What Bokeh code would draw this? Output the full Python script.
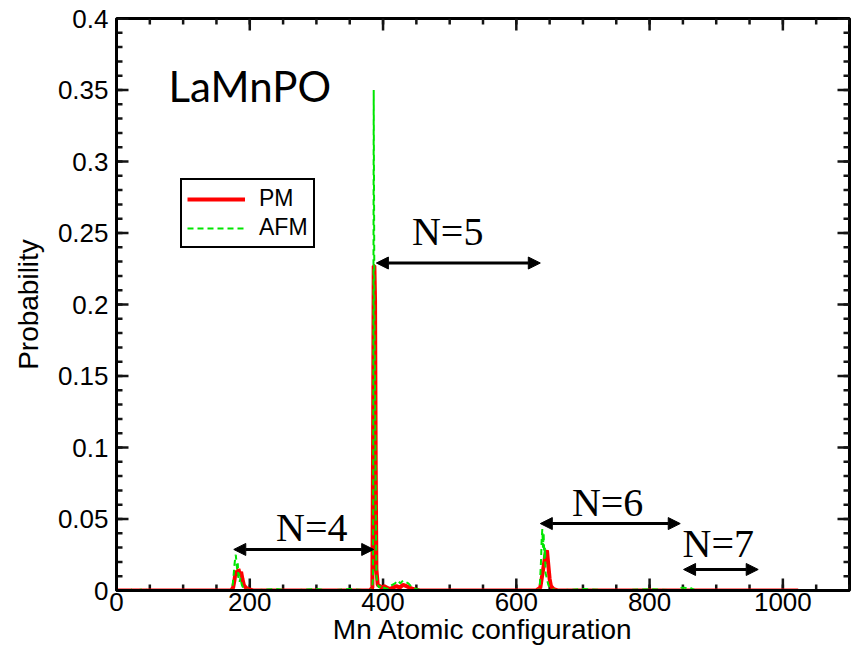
from bokeh.plotting import figure
from bokeh.models import (Range1d, FixedTicker, CustomJSTickFormatter,
                          Arrow, NormalHead, Label, Legend, LegendItem, ColumnDataSource)
from bokeh.core.properties import value
from bokeh.embed import file_html
from bokeh.resources import INLINE

# ---------------- data ----------------
pm_x = [0, 172, 175, 177, 179, 181, 183, 185, 187, 189, 191, 194, 198, 205,
        380, 384, 385, 386, 387, 388, 389, 390, 392, 395, 398, 402, 406, 410,
        415, 420, 425, 430, 435, 440, 445, 455,
        630, 636, 638, 640, 642, 644, 646, 648, 650, 652, 656, 662, 1023]
pm_y = [0, 0, 0.002, 0.007, 0.014, 0.010, 0.015, 0.011, 0.013, 0.008, 0.004, 0.002, 0.001, 0,
        0, 0.002, 0.100, 0.227, 0.227, 0.203, 0.086, 0.015, 0.004, 0.003, 0.002, 0.003, 0.002, 0.001,
        0.002, 0.003, 0.002, 0.004, 0.003, 0.002, 0.001, 0,
        0, 0.002, 0.008, 0.014, 0.020, 0.026, 0.028, 0.018, 0.008, 0.003, 0.001, 0, 0]

afm_x = [0, 20, 25, 30, 40, 50,
         170, 174, 176, 177, 178, 179, 180, 181, 182, 183, 184, 185, 186, 188, 190, 195, 200,
         240, 260, 300, 320, 350, 380,
         384, 385, 386, 387, 388, 389, 390, 392, 394, 396, 398, 402, 406, 410, 414, 418,
         422, 426, 430, 434, 438, 442, 446, 450, 460,
         630, 635, 637, 638, 639, 640, 641, 642, 643, 644, 646, 648, 650, 655, 660,
         700, 750, 800, 845, 848, 852, 856, 860, 865, 870, 1023]
afm_y = [0, 0, 0.001, 0, 0.001, 0,
         0, 0.002, 0.012, 0.018, 0.022, 0.025, 0.020, 0.015, 0.019, 0.008, 0.012, 0.006, 0.009, 0.004, 0.002, 0.001, 0,
         0.001, 0, 0.001, 0, 0.001, 0,
         0.002, 0.010, 0.350, 0.200, 0.140, 0.060, 0.010, 0.004, 0.002, 0.003, 0.001, 0.002, 0.001, 0.003, 0.004, 0.005,
         0.007, 0.005, 0.007, 0.006, 0.005, 0.003, 0.002, 0.001, 0,
         0, 0.001, 0.020, 0.035, 0.043, 0.030, 0.040, 0.022, 0.030, 0.012, 0.008, 0.004, 0.002, 0.001, 0,
         0.001, 0, 0.001, 0, 0.002, 0.002, 0.0015, 0.002, 0.001, 0, 0]

# groups of configurations with N Mn atoms
group_labels = ["N=4", "N=5", "N=6", "N=7"]
group_start = [176, 390, 636, 851]
group_end = [386, 636, 846, 963]
arrow_level = [0.0287, 0.229, 0.0468, 0.0147]
label_x = [293, 497, 737, 903]
label_y = [0.044, 0.2507, 0.0615, 0.0327]

x_ticks = [0, 200, 400, 600, 800, 1000]
x_minor = [i * 50 for i in range(23)]
y_ticks = [0, 0.05, 0.1, 0.15, 0.2, 0.25, 0.3, 0.35, 0.4]
y_minor = [i / 100 for i in range(41)]

X_MIN, X_MAX = 0, 1100
Y_MIN, Y_MAX = 0, 0.4

# ---------------- figure ----------------
W, H = 854, 654
B_LEFT, B_RIGHT, B_TOP, B_BOTTOM = 116, 5, 18, 64
p = figure(width=W, height=H, output_backend="svg", toolbar_location=None,
           x_range=Range1d(X_MIN, X_MAX), y_range=Range1d(Y_MIN, Y_MAX),
           min_border_left=B_LEFT, min_border_right=B_RIGHT,
           min_border_top=B_TOP, min_border_bottom=B_BOTTOM)
p.grid.visible = False
p.outline_line_color = "black"
p.outline_line_width = 3
p.outline_line_alpha = 1
p.background_fill_color = "white"
p.border_fill_color = "white"

fmt = CustomJSTickFormatter(code="return Number(tick.toFixed(2)).toString();")

for ax, ticks, minor in ((p.xaxis[0], x_ticks, x_minor), (p.yaxis[0], y_ticks, y_minor)):
    ax.ticker = FixedTicker(ticks=ticks, minor_ticks=minor)
    ax.formatter = fmt
    ax.axis_line_width = 3
    ax.axis_line_color = "black"
    ax.major_tick_in = 0
    ax.major_tick_out = 0
    ax.minor_tick_in = 0
    ax.minor_tick_out = 0
    ax.major_label_text_font = "Liberation Sans"
    ax.major_label_text_font_size = "26px"
    ax.major_label_text_color = "black"
    ax.axis_label_text_font = "Liberation Sans"
    ax.axis_label_text_font_size = "28px"
    ax.axis_label_text_font_style = "normal"
    ax.axis_label_text_color = "black"

p.xaxis[0].axis_label = "Mn Atomic configuration"
p.yaxis[0].axis_label = "Probability"
p.xaxis[0].major_label_standoff = 2
p.xaxis[0].axis_label_standoff = 0
p.yaxis[0].major_label_standoff = 8
p.yaxis[0].axis_label_standoff = 11

# inward ticks on all four sides of the frame, as small filled bars
dx = (X_MAX - X_MIN) / (W - B_LEFT - B_RIGHT)
dy = (Y_MAX - Y_MIN) / (H - B_TOP - B_BOTTOM)
MAJ, MIN, TW = 12, 6, 1.25
ql, qr, qb, qt = [], [], [], []
for ticks, ln in ((x_ticks, MAJ), (x_minor, MIN)):
    for t in ticks:
        ql += [t - TW * dx, t - TW * dx]; qr += [t + TW * dx, t + TW * dx]
        qb += [Y_MIN, Y_MAX - ln * dy]; qt += [Y_MIN + ln * dy, Y_MAX]
for ticks, ln in ((y_ticks, MAJ), (y_minor, MIN)):
    for t in ticks:
        qb += [t - TW * dy, t - TW * dy]; qt += [t + TW * dy, t + TW * dy]
        ql += [X_MIN, X_MAX - ln * dx]; qr += [X_MIN + ln * dx, X_MAX]
p.quad(left=ql, right=qr, bottom=qb, top=qt, fill_color="#141414", line_color=None)

pm = p.line(pm_x, pm_y, line_color="#ff0000", line_width=4)
afm = p.line(afm_x, afm_y, line_color="#00e600", line_width=2, line_dash="6 4")

head = dict(size=12, fill_color="black", line_color="black")
for xs, xe, yy in zip(group_start, group_end, arrow_level):
    p.add_layout(Arrow(start=NormalHead(**head), end=NormalHead(**head),
                       x_start=xs, y_start=yy, x_end=xe, y_end=yy,
                       line_color="black", line_width=3))

src = ColumnDataSource(dict(x=label_x, y=label_y, t=group_labels))
p.text(x="x", y="y", text="t", source=src, text_font=value("Liberation Serif"),
       text_font_size="40px", text_align="center", text_baseline="middle",
       text_color="black")

p.add_layout(Label(x=78, y=0.353, text="LaMnPO", text_font="Lato",
                   text_font_size="42px", text_color="black", text_baseline="middle"))

legend = Legend(items=[LegendItem(label="PM", renderers=[pm]),
                       LegendItem(label="AFM", renderers=[afm])],
                location=(64, 342))
legend.border_line_color = "black"
legend.border_line_width = 2
legend.border_line_alpha = 1
legend.label_text_font = "Liberation Sans"
legend.label_text_font_size = "23px"
legend.label_text_color = "black"
legend.glyph_width = 58
legend.glyph_height = 26
legend.label_height = 26
legend.spacing = 2
legend.padding = 5
legend.margin = 0
legend.label_standoff = 14
p.add_layout(legend, "center")

open("out.html", "w").write(file_html(p, INLINE))
